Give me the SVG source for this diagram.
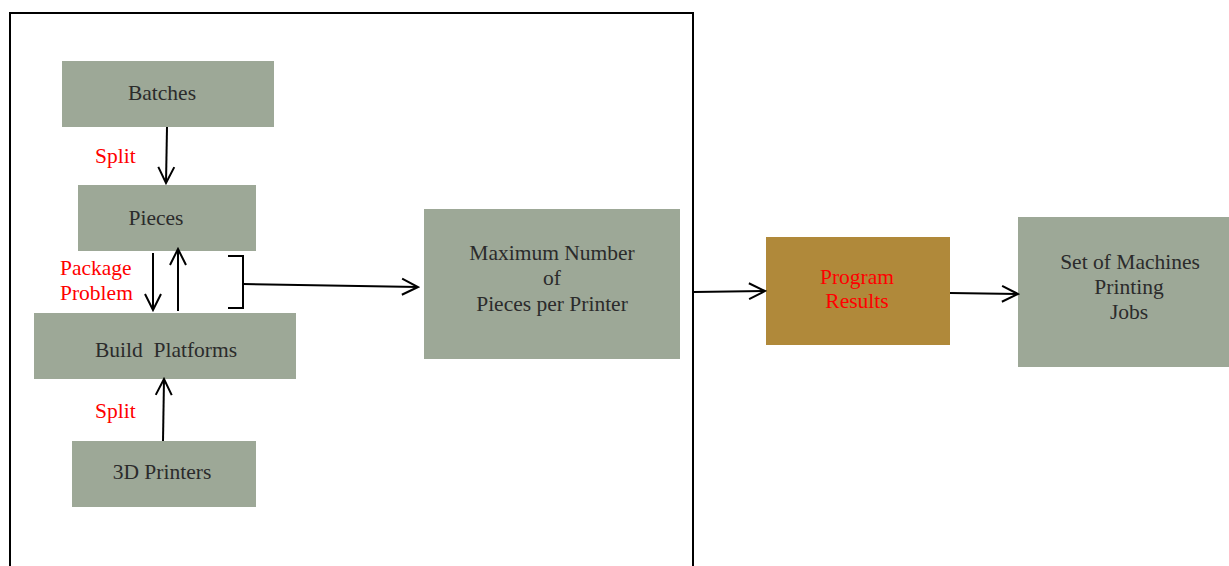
<svg xmlns="http://www.w3.org/2000/svg" width="1229" height="566" viewBox="0 0 1229 566">
<style>
.box{fill:#9DA897;}
.t{font-family:"Liberation Serif",serif;font-size:21.5px;fill:#2b2b2b;text-anchor:middle;dominant-baseline:middle;}
.r{font-family:"Liberation Serif",serif;font-size:21.5px;fill:#ff0000;}
.c{stroke:#000;stroke-width:2;fill:none;}
</style>
<defs>
<marker id="arr" viewBox="0 0 20 20" refX="18" refY="10" markerWidth="20" markerHeight="20" markerUnits="userSpaceOnUse" orient="auto">
<path d="M2,2 L18,10 L2,18" fill="none" stroke="#000" stroke-width="2"/>
</marker>
</defs>
<rect x="10" y="13" width="683" height="570" fill="none" stroke="#000" stroke-width="2"/>
<g id="batches"><rect class="box" x="62" y="61" width="212" height="66"/><text class="t" x="162" y="95">Batches</text></g>
<g id="pieces"><rect class="box" x="78" y="185" width="178" height="66"/><text class="t" x="156" y="220">Pieces</text></g>
<g id="build"><rect class="box" x="34" y="313" width="262" height="66"/><text class="t" x="166" y="352" xml:space="preserve">Build  Platforms</text></g>
<g id="printers"><rect class="box" x="72" y="441" width="184" height="66"/><text class="t" x="162" y="474">3D Printers</text></g>
<g id="maxnum"><rect class="box" x="424" y="209" width="256" height="150"/><text class="t" x="552" y="255">Maximum Number</text><text class="t" x="552" y="280">of</text><text class="t" x="552" y="306">Pieces per Printer</text></g>
<g id="results"><rect x="766" y="237" width="184" height="108" fill="#B0893A"/><text class="t" x="857" y="279" style="fill:#ff0000">Program</text><text class="t" x="857" y="303" style="fill:#ff0000">Results</text></g>
<g id="machines"><rect class="box" x="1018" y="217" width="211" height="150"/><text class="t" x="1130" y="264">Set of Machines</text><text class="t" x="1129" y="289">Printing</text><text class="t" x="1129" y="314">Jobs</text></g>
<g id="labels">
<text class="r" x="95" y="163">Split</text>
<text class="r" x="60" y="275">Package</text>
<text class="r" x="60" y="300">Problem</text>
<text class="r" x="95" y="418">Split</text>
</g>
<g id="connectors">
<line class="c" x1="167" y1="127" x2="166" y2="183" marker-end="url(#arr)"/>
<line class="c" x1="153" y1="253" x2="153" y2="310" marker-end="url(#arr)"/>
<line class="c" x1="178" y1="311" x2="178" y2="249" marker-end="url(#arr)"/>
<line class="c" x1="163" y1="441" x2="164" y2="379" marker-end="url(#arr)"/>
<path class="c" d="M228,256 L243,256 L243,308 L228,308"/>
<line class="c" x1="243" y1="284" x2="418" y2="287" marker-end="url(#arr)"/>
<line class="c" x1="694" y1="292" x2="765" y2="291" marker-end="url(#arr)"/>
<line class="c" x1="950" y1="293" x2="1018" y2="294" marker-end="url(#arr)"/>
</g>
</svg>
